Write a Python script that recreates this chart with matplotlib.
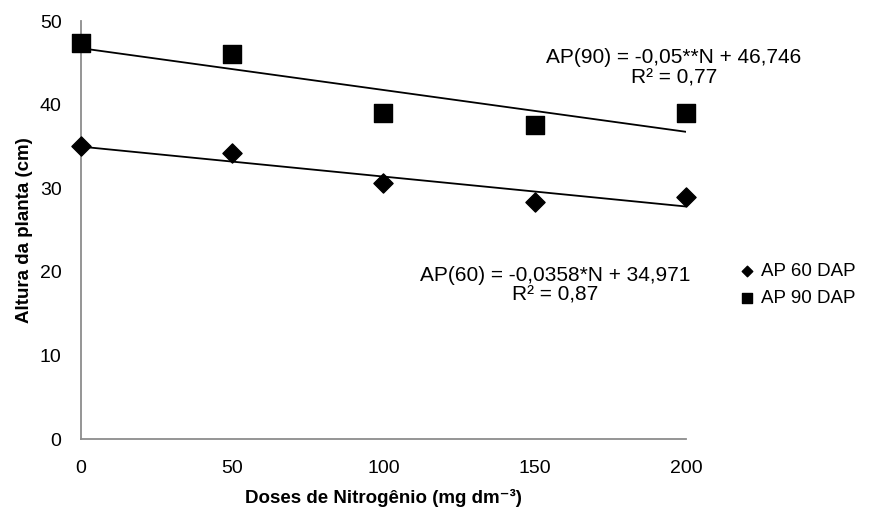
import numpy as np
import matplotlib
matplotlib.use("Agg")
import matplotlib.pyplot as plt

plt.rcParams['font.family'] = ['Liberation Sans', 'DejaVu Sans']

# data
doses = [0, 50, 100, 150, 200]
ap60 = [35.0, 34.2, 30.6, 28.3, 29.0]
ap90 = [47.4, 46.0, 39.0, 37.6, 39.0]

# fitted lines as printed on the chart
coef60 = (-0.0358, 34.971)
coef90 = (-0.05, 46.746)
eq60 = "AP(60) = -0,0358*N + 34,971\nR² = 0,87"
eq90 = "AP(90) = -0,05**N + 46,746\nR² = 0,77"

fig = plt.figure(figsize=(8.7, 5.09), dpi=100)
ax = fig.add_axes([81 / 870, 1 - 439 / 509, (686 - 81) / 870, (439 - 21) / 509])

ax.scatter(doses, ap60, marker='D', s=95, color='black', label='AP 60 DAP', zorder=3)
ax.scatter(doses, ap90, marker='s', s=180, color='black', label='AP 90 DAP', zorder=3)

xs = np.array([doses[0], doses[-1]])
ax.plot(xs, coef60[0] * xs + coef60[1], color='black', lw=1.3, zorder=2)
ax.plot(xs, coef90[0] * xs + coef90[1], color='black', lw=1.3, zorder=2)

ax.text(156.7, 18.4, eq60, ha='center', va='center', fontsize=15, linespacing=1.05)
ax.text(196, 44.4, eq90, ha='center', va='center', fontsize=15, linespacing=1.05,
        clip_on=False)

ax.set_xlim(0, 200)
ax.set_ylim(0, 50)
ax.set_xticks(doses)
ax.set_yticks([0, 10, 20, 30, 40, 50])
ax.tick_params(length=0, labelsize=14)
ax.tick_params(axis='x', pad=15)
ax.tick_params(axis='y', pad=14)
for s in ['top', 'right']:
    ax.spines[s].set_visible(False)
for s in ['left', 'bottom']:
    ax.spines[s].set_color('#8c8c8c')
    ax.spines[s].set_linewidth(1.3)
for c in ax.collections:
    c.set_clip_on(False)

ax.set_xlabel('Doses de Nitrogênio (mg dm⁻³)', fontsize=13.5, fontweight='bold', labelpad=9)
ax.set_ylabel('Altura da planta (cm)', fontsize=13.5, fontweight='bold', labelpad=5)

ax.legend(loc='center left', bbox_to_anchor=(0.852, 0.44), bbox_transform=fig.transFigure,
          frameon=False, fontsize=13.5, markerscale=0.55, handletextpad=0.45,
          handlelength=0.6, labelspacing=0.55, borderaxespad=0, borderpad=0)

fig.savefig('out.png', dpi=100)
